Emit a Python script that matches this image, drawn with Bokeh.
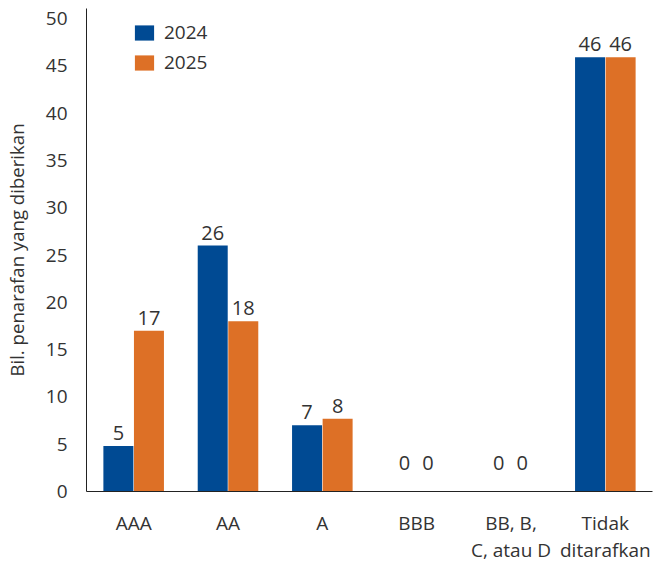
from bokeh.plotting import figure
from bokeh.models import ColumnDataSource, FixedTicker, Range1d, Legend, LegendItem
from bokeh.core.properties import value
from bokeh.embed import file_html
from bokeh.resources import INLINE

categories = ["AAA", "AA", "A", "BBB", "BB, B,\nC, atau D", "Tidak\nditarafkan"]
series_names = ["2024", "2025"]
values_2024 = [4.8, 26, 7, 0, 0, 45.9]
values_2025 = [17, 18, 7.7, 0, 0, 45.9]
labels_2024 = ["5", "26", "7", "0", "0", "46"]
labels_2025 = ["17", "18", "8", "0", "0", "46"]
y_ticks = [0, 5, 10, 15, 20, 25, 30, 35, 40, 45, 50]

FONT = "Open Sans"
BLUE = "#004A93"
ORANGE = "#DD7026"
TXT = "#333333"

p = figure(frame_width=566, frame_height=483, output_backend="svg", toolbar_location=None,
           x_range=Range1d(-0.5, len(categories) - 0.5), y_range=Range1d(0, 51.06),
           min_border_left=77, min_border_right=2, min_border_top=8, min_border_bottom=60)
p.outline_line_color = None
p.grid.grid_line_color = None
p.background_fill_color = "white"

xs = list(range(len(categories)))
off = 0.162
bw = 0.318


def label_offsets(vals, side):
    # zero-valued labels float higher and sit closer to the category centre
    yo = [-29 if v == 0 else -13 for v in vals]
    xo = [(3 if side < 0 else -4) if v == 0 else 0 for v in vals]
    return xo, yo


xo1, yo1 = label_offsets(values_2024, -1)
xo2, yo2 = label_offsets(values_2025, 1)
src1 = ColumnDataSource(dict(x=[x - off for x in xs], top=values_2024, lab=labels_2024, xo=xo1, yo=yo1))
src2 = ColumnDataSource(dict(x=[x + off for x in xs], top=values_2025, lab=labels_2025, xo=xo2, yo=yo2))

r1 = p.vbar(x="x", top="top", width=bw, source=src1, fill_color=BLUE, line_color=None)
r2 = p.vbar(x="x", top="top", width=bw, source=src2, fill_color=ORANGE, line_color=None)

for s in (src1, src2):
    p.text(x="x", y="top", text="lab", source=s, text_align="center", text_baseline="alphabetic",
           x_offset="xo", y_offset="yo", text_font=value(FONT), text_font_size="20px", text_color=TXT)

# axes
p.yaxis.ticker = FixedTicker(ticks=y_ticks)
p.yaxis.major_tick_line_color = None
p.yaxis.minor_tick_line_color = None
p.yaxis.axis_line_color = "#222222"
p.yaxis.major_label_text_font = FONT
p.yaxis.major_label_text_font_size = "19px"
p.yaxis.major_label_text_color = TXT
p.yaxis.major_label_standoff = 13
p.yaxis.axis_label = "Bil. penarafan yang diberikan"
p.yaxis.axis_label_text_font = FONT
p.yaxis.axis_label_text_font_size = "18.6px"
p.yaxis.axis_label_text_font_style = "normal"
p.yaxis.axis_label_text_color = TXT
p.yaxis.axis_label_standoff = 14

p.xaxis.ticker = FixedTicker(ticks=xs)
p.xaxis.major_label_overrides = {i: c for i, c in enumerate(categories)}
p.xaxis.major_tick_line_color = None
p.xaxis.minor_tick_line_color = None
p.xaxis.axis_line_color = "#222222"
p.xaxis.major_label_text_font = FONT
p.xaxis.major_label_text_font_size = "19px"
p.xaxis.major_label_text_color = TXT
p.xaxis.major_label_text_line_height = 1.05
p.xaxis.major_label_standoff = 12

legend = Legend(items=[LegendItem(label=series_names[0], renderers=[r1]),
                       LegendItem(label=series_names[1], renderers=[r2])],
                location=(46, 416), orientation="vertical")
legend.padding = 0
legend.margin = 0
legend.spacing = 4
legend.glyph_width = 24
legend.glyph_height = 19
legend.label_standoff = 8
legend.label_text_font = FONT
legend.label_text_font_size = "19px"
legend.label_text_color = TXT
legend.border_line_color = None
legend.background_fill_alpha = 0
p.add_layout(legend, "center")

open("out.html", "w").write(file_html(p, INLINE))
